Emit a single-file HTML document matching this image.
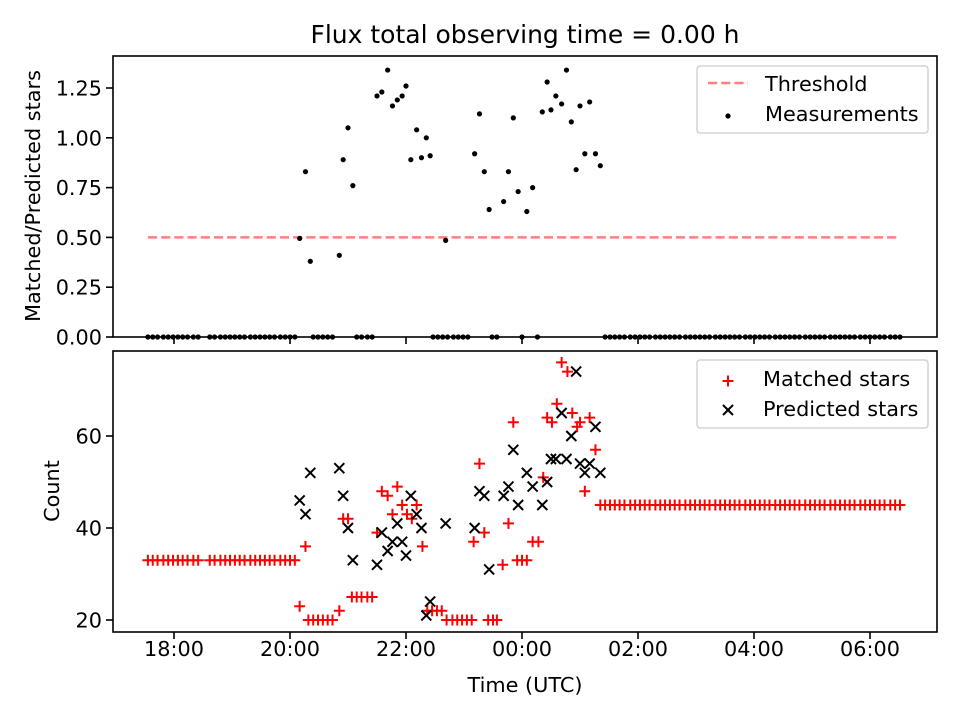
<!DOCTYPE html>
<html><head><meta charset="utf-8"><style>
html,body{margin:0;padding:0;background:#fff;}
svg{display:block;font-family:"DejaVu Sans","Liberation Sans",sans-serif;}
</style></head><body>
<svg id="chart" width="960" height="720" viewBox="0 0 960 720" xmlns="http://www.w3.org/2000/svg">
<rect x="0" y="0" width="960" height="720" fill="#fff"/>
<text x="525" y="43" font-size="25" text-anchor="middle">Flux total observing time = 0.00 h</text>
<g id="gtop"></g>
<g id="gbot"></g>
<text x="525" y="692" font-size="20.8" text-anchor="middle">Time (UTC)</text>
<text transform="translate(40,196) rotate(-90)" font-size="20.8" text-anchor="middle">Matched/Predicted stars</text>
<text transform="translate(59,491) rotate(-90)" font-size="20.8" text-anchor="middle">Count</text>
</svg>
<script>
// times in minutes since 18:00 UTC
const zeroTimes = [-27,-22,-17,-11,-6,-1,4,9,14,20,25,37,42,48,53,58,63,68,73,79,84,89,94,99,104,110,115,120,125,144,149,154,159,164,189,194,200,205,268,273,278,283,289,294,299,304,329,334,360,376,446,451,456,461,466,472,477,482,487,492,498,503,508,513,518,523,529,534,539,544,549,554,560,565,570,575,580,585,591,596,601,606,611,616,622,627,632,637,642,647,653,658,663,668,673,679,684,689,694,699,704,710,715,720,725,730,735,741,746,751];
const ratioTimes = [130,136,141,171,175,180,185,210,215,221,226,231,236,240,245,251,256,261,265,281,311,316,321,326,341,346,351,356,365,371,381,386,390,395,401,406,411,416,420,425,430,436,441];
const ratioVals = [0.495,0.83,0.38,0.41,0.89,1.05,0.76,1.21,1.23,1.34,1.16,1.19,1.21,1.26,0.89,1.04,0.90,1.00,0.91,0.485,0.92,1.12,0.83,0.64,0.68,0.83,1.10,0.73,0.63,0.75,1.13,1.28,1.14,1.21,1.17,1.34,1.08,0.84,1.16,0.92,1.18,0.92,0.86];
const matchedTimes = [-27,-22,-17,-11,-6,-1,4,9,14,20,25,37,42,48,53,58,63,68,73,79,84,89,94,99,104,110,115,120,125,130,136,139,144,149,154,159,164,171,175,180,184,189,194,200,205,210,215,221,226,231,236,241,246,251,257,262,267,272,277,282,288,293,298,303,308,310,316,321,325,330,334,340,346,351,355,360,365,371,377,382,386,391,396,401,407,412,417,420,425,430,436,441,446,451,456,461,466,472,477,482,487,492,498,503,508,513,518,523,529,534,539,544,549,554,560,565,570,575,580,585,591,596,601,606,611,616,622,627,632,637,642,647,653,658,663,668,673,679,684,689,694,699,704,710,715,720,725,730,735,741,746,751];
const matchedVals = [33,33,33,33,33,33,33,33,33,33,33,33,33,33,33,33,33,33,33,33,33,33,33,33,33,33,33,33,33,23,36,20,20,20,20,20,20,22,42,42,25,25,25,25,25,39,48,47,43,49,45,43,42,45,36,22,22,22,22,20,20,20,20,20,20,37,54,39,20,20,20,32,41,63,33,33,33,37,37,51,64,63,67,76,74,65,62,63,48,64,57,45,45,45,45,45,45,45,45,45,45,45,45,45,45,45,45,45,45,45,45,45,45,45,45,45,45,45,45,45,45,45,45,45,45,45,45,45,45,45,45,45,45,45,45,45,45,45,45,45,45,45,45,45,45,45,45,45,45,45,45,45];
const predTimes = [130,136,141,171,175,180,185,210,215,221,226,231,236,240,245,251,256,261,265,281,311,316,321,326,341,346,351,356,365,371,381,386,390,395,401,406,411,416,420,425,430,436,441];
const predVals = [46,43,52,53,47,40,33,32,39,35,37,41,37,34,47,43,40,21,24,41,40,48,47,31,47,49,57,45,52,49,45,50,55,55,65,55,60,74,54,52,54,62,52];
const xTickMins = [0,120,240,360,480,600,720];
const xTickLabels = ["18:00","20:00","22:00","00:00","02:00","04:00","06:00"];
const topTicks = [0,0.25,0.5,0.75,1.0,1.25];
const topTickLabels = ["0.00","0.25","0.50","0.75","1.00","1.25"];
const botTicks = [20,40,60];
const threshold = 0.5;

const NS = "http://www.w3.org/2000/svg";
const L = 113, R = 937;
const T1 = 56, B1 = 337, T2 = 351, B2 = 632;
const FS = 20.8;
function xs(m){ return 174 + m * 116 / 120; }
function yTop(v){ return 337 - v * 199.2; }
function yBot(v){ return 620 - (v - 20) * 4.6; }
function mk(tag, attrs, parent){
  const e = document.createElementNS(NS, tag);
  for (const k in attrs) e.setAttribute(k, attrs[k]);
  parent.appendChild(e);
  return e;
}
const gTop = document.getElementById('gtop');
const gBot = document.getElementById('gbot');

const allT = zeroTimes.concat(ratioTimes);
const tmin = Math.min(...allT), tmax = Math.max(...allT);
const th = mk('line', {x1: xs(tmin), x2: xs(tmax), y1: yTop(threshold), y2: yTop(threshold), stroke: '#ff7f7f', 'stroke-width': 2.5, 'stroke-dasharray': '9.2,4'}, gTop);



zeroTimes.forEach(t => {
  const c = mk('circle', {cx: xs(t), cy: yTop(0), r: 2.6, fill: '#000'}, gTop);
  
  
});
ratioTimes.forEach((t, i) => {
  const c = mk('circle', {cx: xs(t), cy: yTop(ratioVals[i]), r: 2.6, fill: '#000'}, gTop);
  
  
});

matchedTimes.forEach((t, i) => {
  const x = xs(t), y = yBot(matchedVals[i]);
  const p = mk('path', {d: `M${x-5.5},${y}H${x+5.5}M${x},${y-5.5}V${y+5.5}`, stroke: '#ff0000', 'stroke-width': 2, fill: 'none'}, gBot);
  
  
});
predTimes.forEach((t, i) => {
  const x = xs(t), y = yBot(predVals[i]);
  const p = mk('path', {d: `M${x-5},${y-5}L${x+5},${y+5}M${x-5},${y+5}L${x+5},${y-5}`, stroke: '#000', 'stroke-width': 2, fill: 'none'}, gBot);
  
  
});

const f1 = mk('rect', {x: L, y: T1, width: R-L, height: B1-T1, fill: 'none', stroke: '#000', 'stroke-width': 1.6}, gTop);


const f2 = mk('rect', {x: L, y: T2, width: R-L, height: B2-T2, fill: 'none', stroke: '#000', 'stroke-width': 1.6}, gBot);



xTickMins.forEach((m, i) => {
  const x = xs(m);
  const a = mk('line', {x1: x, x2: x, y1: B1, y2: B1+7, stroke: '#000', 'stroke-width': 1.6}, gTop);
  
  
  const b = mk('line', {x1: x, x2: x, y1: B2, y2: B2+7, stroke: '#000', 'stroke-width': 1.6}, gBot);
  
  
  const tx = mk('text', {x: x, y: 656, 'font-size': FS, 'text-anchor': 'middle'}, gBot);
  tx.textContent = xTickLabels[i];
  
  
});
topTicks.forEach((v, i) => {
  const y = yTop(v);
  const a = mk('line', {x1: L-7, x2: L, y1: y, y2: y, stroke: '#000', 'stroke-width': 1.6}, gTop);
  
  
  const tx = mk('text', {x: L-11, y: y+7.5, 'font-size': FS, 'text-anchor': 'end'}, gTop);
  tx.textContent = topTickLabels[i];
  
  
});
botTicks.forEach(v => {
  const y = yBot(v);
  const a = mk('line', {x1: L-7, x2: L, y1: y, y2: y, stroke: '#000', 'stroke-width': 1.6}, gBot);
  
  
  const tx = mk('text', {x: L-11, y: y+7.5, 'font-size': FS, 'text-anchor': 'end'}, gBot);
  tx.textContent = String(v);
  
  
});

const lg1 = mk('g', {}, gTop);


mk('rect', {x: 697, y: 66, width: 231, height: 67, rx: 3, fill: '#fff', 'fill-opacity': 0.8, stroke: '#ccc', 'stroke-width': 1.3}, lg1);
mk('line', {x1: 708, x2: 748, y1: 83, y2: 83, stroke: '#ff7f7f', 'stroke-width': 2.5, 'stroke-dasharray': '9.2,4'}, lg1);
const lt1 = mk('text', {x: 765, y: 91, 'font-size': FS}, lg1);
lt1.textContent = 'Threshold';


mk('circle', {cx: 728, cy: 116, r: 2.6, fill: '#000'}, lg1);
const lt2 = mk('text', {x: 765, y: 121, 'font-size': FS}, lg1);
lt2.textContent = 'Measurements';



const lg2 = mk('g', {}, gBot);


mk('rect', {x: 697, y: 360, width: 231, height: 68, rx: 3, fill: '#fff', 'fill-opacity': 0.8, stroke: '#ccc', 'stroke-width': 1.3}, lg2);
mk('path', {d: 'M722.5,381H733.5M728,375.5V386.5', stroke: '#ff0000', 'stroke-width': 2}, lg2);
const lt3 = mk('text', {x: 763, y: 386, 'font-size': FS}, lg2);
lt3.textContent = 'Matched stars';


mk('path', {d: 'M723,405L733,415M723,415L733,405', stroke: '#000', 'stroke-width': 2}, lg2);
const lt4 = mk('text', {x: 763, y: 416, 'font-size': FS}, lg2);
lt4.textContent = 'Predicted stars';


</script>
</body></html>
